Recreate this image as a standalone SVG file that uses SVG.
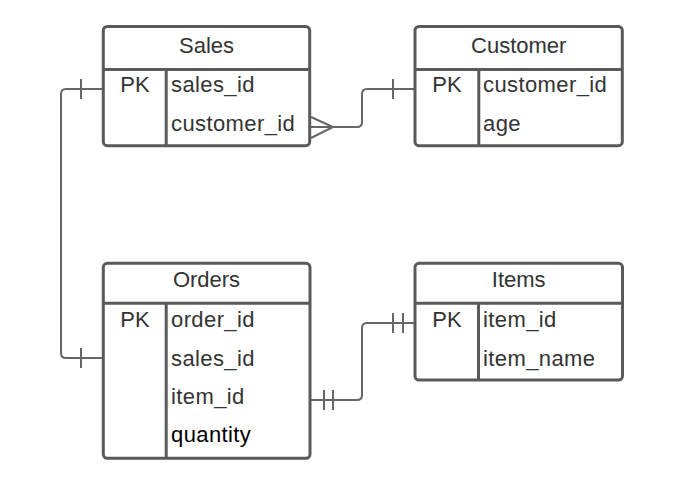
<svg xmlns="http://www.w3.org/2000/svg" width="688" height="480" viewBox="0 0 688 480">
<style>
.box{fill:#fff;stroke:#5a5a5a;stroke-width:3}
.ln{stroke:#5a5a5a;stroke-width:3;fill:none}
.cn{stroke:#666;stroke-width:2;fill:none}
text{font-family:"Liberation Sans",Arial,sans-serif;font-size:22px;fill:#333}
.f{letter-spacing:0.4px}
.h{text-anchor:middle}
.pk{text-anchor:middle}
</style>
<rect width="688" height="480" fill="#fff"/>
<g id="connectors">
<path class="cn" d="M103 89 H66 Q61 89 61 94 V353 Q61 358 66 358 H103"/>
<path class="cn" d="M81 79 V99 M81 348 V368"/>
<path class="cn" d="M310 127 H357 Q362 127 362 122 V94 Q362 89 367 89 H415"/>
<path class="cn" d="M393 79 V99"/>
<path class="cn" d="M311 117 L333 127 L311 138"/>
<path class="cn" d="M310 400 H357 Q362 400 362 395 V328 Q362 323 367 323 H415"/>
<path class="cn" d="M324 390 V410 M333 390 V410 M393 313 V333 M403 313 V333"/>
</g>
<g id="sales">
<rect class="box" x="103.3" y="26.5" width="206.4" height="119.2" rx="4"/>
<path class="ln" d="M103.3 69.5 H309.7 M166.2 69.5 V145.7"/>
<text class="h" x="206.5" y="53">Sales</text>
<text class="pk" x="135" y="92">PK</text>
<text class="f" x="171" y="92">sales_id</text>
<text class="f" x="171" y="131">customer_id</text>
</g>
<g id="customer">
<rect class="box" x="415" y="26.5" width="207.3" height="119.2" rx="4"/>
<path class="ln" d="M415 69.5 H622.3 M478.8 69.5 V145.7"/>
<text class="h" x="518.7" y="53">Customer</text>
<text class="pk" x="447" y="92">PK</text>
<text class="f" x="483" y="92">customer_id</text>
<text class="f" x="483" y="131">age</text>
</g>
<g id="orders">
<rect class="box" x="103.3" y="263.3" width="206.7" height="195" rx="4"/>
<path class="ln" d="M103.3 303.3 H310 M166.2 303.3 V458.3"/>
<text class="h" x="206.5" y="287">Orders</text>
<text class="pk" x="135" y="327">PK</text>
<text class="f" x="171" y="327">order_id</text>
<text class="f" x="171" y="365.5">sales_id</text>
<text class="f" x="171" y="404">item_id</text>
<text class="f" x="171" y="442" style="fill:#000">quantity</text>
</g>
<g id="items">
<rect class="box" x="415" y="263.3" width="207.5" height="116.7" rx="4"/>
<path class="ln" d="M415 303.3 H622.5 M478.5 303.3 V380"/>
<text class="h" x="518.7" y="287">Items</text>
<text class="pk" x="447" y="327">PK</text>
<text class="f" x="483" y="327">item_id</text>
<text class="f" x="483" y="365.5">item_name</text>
</g>
</svg>
